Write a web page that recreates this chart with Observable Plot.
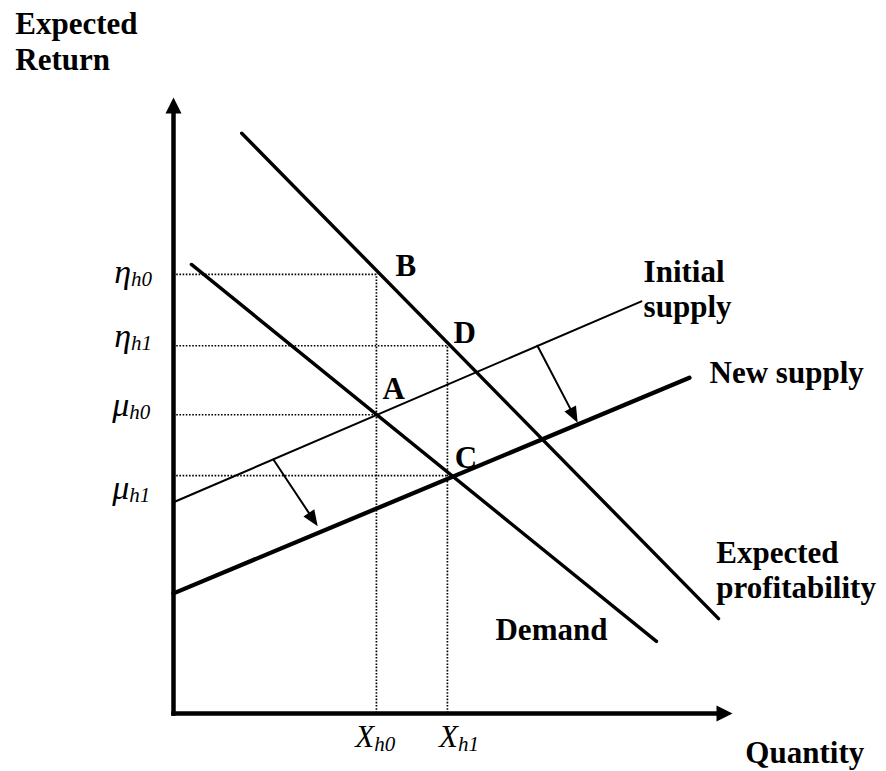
<!DOCTYPE html>
<html><head><meta charset="utf-8">
<script src="https://cdn.jsdelivr.net/npm/d3@7"></script>
<script src="https://cdn.jsdelivr.net/npm/@observablehq/plot@0.6"></script>
<style>body{margin:0;background:#fff}</style>
</head><body><div id="chart"></div>
<script>
// Curves: quantity q (0–100) vs expected return r (0–100), abstract units
const initialSupply = [{q: 0, r: 34.3}, {q: 83.7, r: 66.9}];
const newSupply = [{q: 0, r: 19.5}, {q: 92.3, r: 54.5}];
const demand = [{q: 3.2, r: 72.9}, {q: 86.4, r: 11.7}];
const profitability = [{q: 12.2, r: 94.2}, {q: 97.5, r: 15.4}];

// Equilibrium points and their letters
const pointNames = ["A", "B", "C", "D"];
const pointLabelQ = [37.4, 39.7, 50.3, 50.1];
const pointLabelR = [51.0, 71.1, 39.9, 60.1];

// Return levels (dotted guides) and y labels
const yLevelMain = ["η", "η", "μ", "μ"];
const yLevelSub = ["h0", "h1", "h0", "h1"];
const yLevelR = [71.3, 59.7, 48.5, 38.6];
const yLevelQ = [36.3, 49.0, 36.3, 49.0];
const yLabelQ = [-7.6, -7.6, -7.9, -7.9];
const yLabelR = [69.9, 59.5, 48.3, 34.8];

// Quantity levels (dotted guides) and x labels
const xLevelMain = ["X", "X"];
const xLevelSub = ["h0", "h1"];
const xLevelQ = [36.3, 49.0];
const xLevelR = [71.3, 59.7];
const xLabelQ = [35.9, 50.9];
const xLabelR = [-5.5, -5.5];

// Supply shift arrows
const shiftFromQ = [17.9, 65.1];
const shiftFromR = [41.2, 59.7];
const shiftToQ = [25.8, 72.3];
const shiftToR = [30.4, 47.2];

// Curve labels
const curveLabels = ["Initial\nsupply", "New supply", "Expected\nprofitability", "Demand"];
const curveLabelQ = [84.1, 95.9, 97.1, 57.6];
const curveLabelR = [64.3, 53.6, 18.8, 11.9];

// Axis titles and axis arrow tips
const axisTitles = ["Expected\nReturn", "Quantity"];
const axisTitleQ = [-28.3, 102.3];
const axisTitleR = [104.4, -8.0];
const axisTipQ = [0, 100];
const axisTipR = [100, 0];

// ---- layout ----
const W = 886, H = 771;
const mL = 173, mR = 154, mT = 97, mB = 58;
const kx = (W - mL - mR) / 100, ky = (H - mT - mB) / 100;
const serif = "'Liberation Serif', 'Times New Roman', Times, serif";

function head(L, Wd) {
  return {draw(ctx) { ctx.moveTo(0, 0); ctx.lineTo(Wd / 2, L); ctx.lineTo(-Wd / 2, L); ctx.closePath(); }};
}
const angle = (dq, dr) => Math.atan2(dq * kx, dr * ky) * 180 / Math.PI;
const shiftAngles = shiftToQ.map((q, i) => angle(q - shiftFromQ[i], shiftToR[i] - shiftFromR[i]));
const axisAngles = axisTipQ.map((q, i) => angle(q, axisTipR[i]));

const dotted = {stroke: "black", strokeWidth: 1.7, strokeDasharray: "1.6,1.6"};
const bold = {fontFamily: serif, fontWeight: "bold", fontSize: 31, fill: "black", textAnchor: "start", lineAnchor: "bottom"};
const ital = {fontFamily: serif, fontStyle: "italic", fill: "black", lineAnchor: "bottom"};

const chart = Plot.plot({
  width: W, height: H,
  marginLeft: mL, marginRight: mR, marginTop: mT, marginBottom: mB,
  x: {domain: [0, 100], axis: null},
  y: {domain: [0, 100], axis: null},
  style: {background: "white", fontFamily: serif, overflow: "visible"},
  marks: [
    // dotted guides
    Plot.ruleY(yLevelR, {y: yLevelR, x1: yLevelR.map(() => 0), x2: yLevelQ, ...dotted}),
    Plot.ruleX(xLevelQ, {x: xLevelQ, y1: xLevelQ.map(() => 0), y2: xLevelR, ...dotted}),
    // curves
    Plot.line(initialSupply, {x: "q", y: "r", stroke: "black", strokeWidth: 2}),
    Plot.line(newSupply, {x: "q", y: "r", stroke: "black", strokeWidth: 4.3}),
    Plot.line(demand, {x: "q", y: "r", stroke: "black", strokeWidth: 3.4}),
    Plot.line(profitability, {x: "q", y: "r", stroke: "black", strokeWidth: 3.4}),
    // shift arrows
    Plot.arrow(shiftFromQ, {x1: shiftFromQ, y1: shiftFromR, x2: shiftToQ, y2: shiftToR,
      headLength: 0, insetEnd: 10, stroke: "black", strokeWidth: 2}),
    Plot.dot(shiftToQ, {x: shiftToQ, y: shiftToR, rotate: shiftAngles, symbol: head(16, 13), fill: "black", stroke: "none"}),
    // axes
    Plot.arrow(axisTipQ, {x1: axisTipQ.map(() => 0), y1: axisTipQ.map(() => 0), x2: axisTipQ, y2: axisTipR,
      headLength: 0, insetEnd: 14, stroke: "black", strokeWidth: 4.5, strokeLinecap: "square"}),
    Plot.dot(axisTipQ, {x: axisTipQ, y: axisTipR, rotate: axisAngles, symbol: head(16, 16), fill: "black", stroke: "none"}),
    // labels
    Plot.text(curveLabels, {x: curveLabelQ, y: curveLabelR, text: curveLabels, lineHeight: 1.13, ...bold}),
    Plot.text(axisTitles, {x: axisTitleQ, y: axisTitleR, text: axisTitles, lineHeight: 1.19, ...bold}),
    Plot.text(pointNames, {x: pointLabelQ, y: pointLabelR, text: pointNames, ...bold}),
    Plot.text(yLevelMain, {x: yLabelQ, y: yLabelR, text: yLevelMain, fontSize: 34, textAnchor: "end", ...ital}),
    Plot.text(yLevelSub, {x: yLabelQ, y: yLabelR, text: yLevelSub, fontSize: 21, textAnchor: "start", dy: 3, ...ital}),
    Plot.text(xLevelMain, {x: xLabelQ, y: xLabelR, text: xLevelMain, fontSize: 31, textAnchor: "end", ...ital}),
    Plot.text(xLevelSub, {x: xLabelQ, y: xLabelR, text: xLevelSub, fontSize: 21, textAnchor: "start", dy: 4, ...ital})
  ]
});
document.getElementById("chart").appendChild(chart);
</script>
</body></html>
